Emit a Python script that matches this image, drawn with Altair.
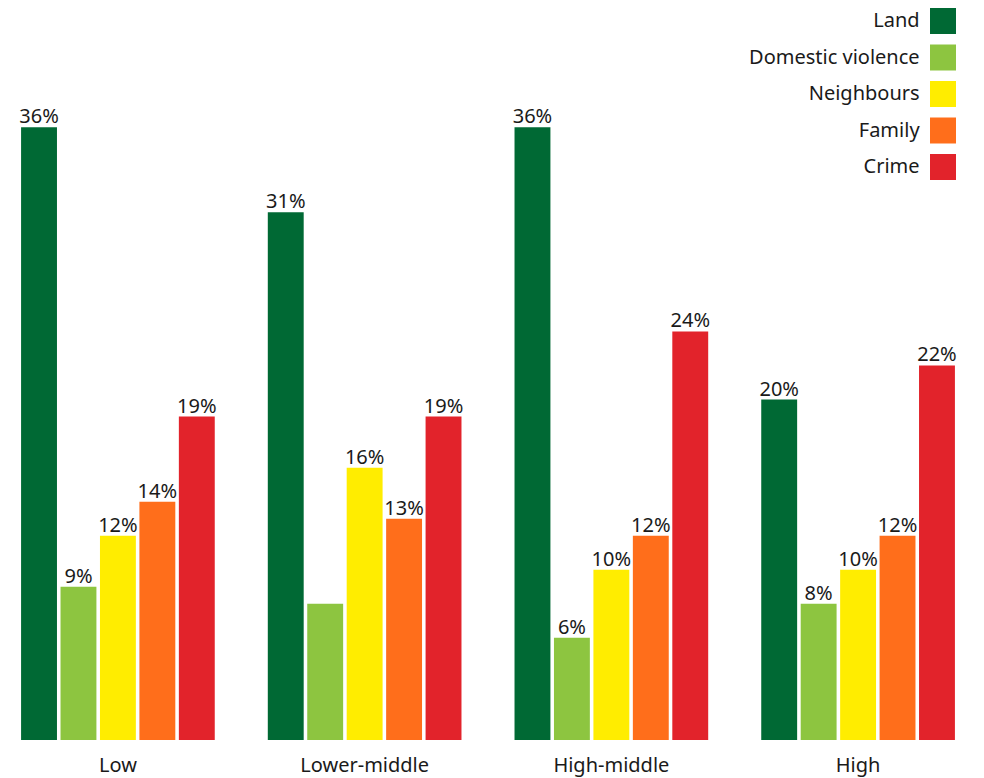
import altair as alt
import pandas as pd

groups = ["Low", "Lower-middle", "High-middle", "High"]
series = ["Land", "Domestic violence", "Neighbours", "Family", "Crime"]
colors = ["#006934", "#8dc540", "#ffed00", "#ff6e1b", "#e2232b"]
values = {
    "Low": [36, 9, 12, 14, 19],
    "Lower-middle": [31, 8, 16, 13, 19],
    "High-middle": [36, 6, 10, 12, 24],
    "High": [20, 8, 10, 12, 22],
}
hidden_labels = {("Lower-middle", "Domestic violence")}

rows = []
for g in groups:
    for s, v in zip(series, values[g]):
        rows.append({
            "group": g,
            "series": s,
            "value": v,
            "label": "" if (g, s) in hidden_labels else f"{v}%",
        })
df = pd.DataFrame(rows)

FONT = "Noto Sans"
FS = 20
TXT = "#1a1a1a"
GAP = "\u00a0" * 7 + "\u2060"  # spacing between legend label and its swatch

x = alt.X("group:N", sort=groups, title=None,
          scale=alt.Scale(paddingInner=0.215, paddingOuter=0.053),
          axis=alt.Axis(labelAngle=0, ticks=False, domain=False, labelPadding=15,
                        labelFontSize=FS, labelFont=FONT, labelColor=TXT))
xo = alt.XOffset("series:N", sort=series,
                 scale=alt.Scale(paddingInner=0.09, paddingOuter=0))
y = alt.Y("value:Q", title=None, scale=alt.Scale(domain=[0, 43], nice=False),
          axis=None)

bars = alt.Chart(df).mark_bar().encode(
    x=x, xOffset=xo, y=y,
    color=alt.Color("series:N", sort=series,
                    scale=alt.Scale(domain=series, range=colors),
                    legend=alt.Legend(
                        title=None, orient="none", legendX=886, legendY=0,
                        symbolType="square", symbolSize=676, symbolStrokeWidth=0,
                        symbolOffset=36, symbolOpacity=1,
                        labelAlign="right", labelOffset=0, labelLimit=400,
                        labelExpr=f"datum.label + '{GAP}'",
                        labelFontSize=FS, labelFont=FONT, labelColor=TXT,
                        rowPadding=10.5, padding=0)),
)

labels = alt.Chart(df).mark_text(baseline="bottom", dy=0, fontSize=FS, font=FONT,
                                 color=TXT).encode(
    x=x, xOffset=xo, y=y, text="label:N")

chart = alt.layer(bars, labels).properties(
    width=960, height=732,
    padding={"left": 0, "top": 0, "right": 0, "bottom": 10}
).configure_view(stroke=None)

chart.save("out.html", embed_options={"renderer": "svg", "actions": False})
